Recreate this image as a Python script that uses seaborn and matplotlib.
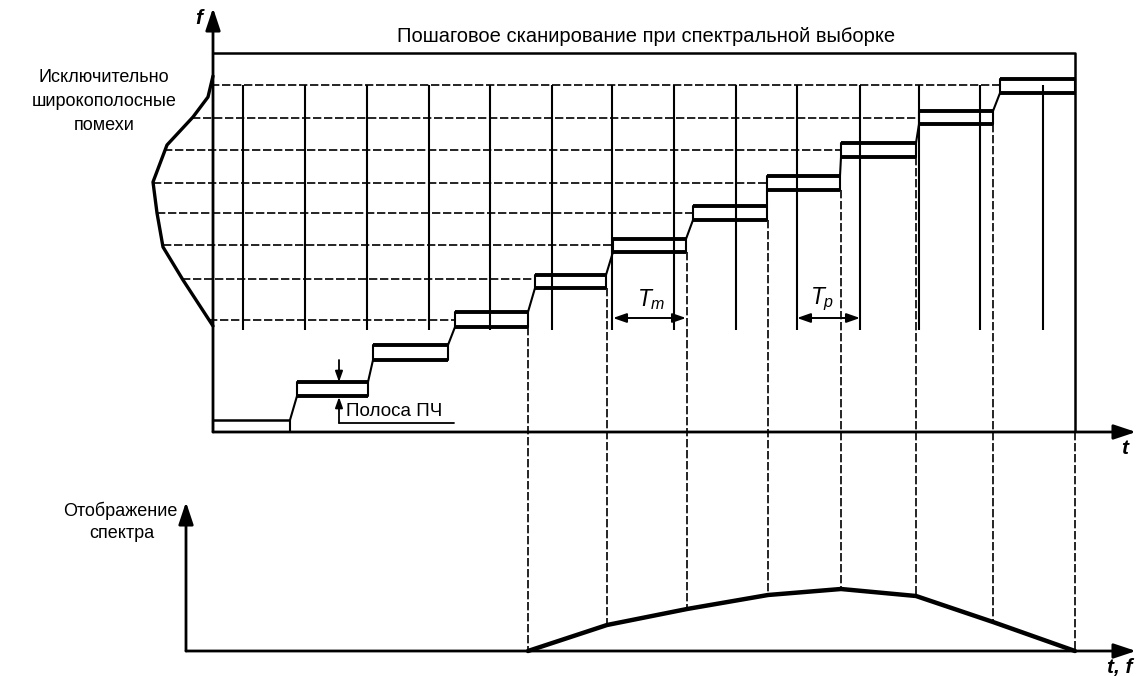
import matplotlib
matplotlib.use("Agg")
import matplotlib.pyplot as plt
import seaborn as sns
import pandas as pd

# ---------------- data (diagram units; vertical axis measured downward) ----------------
step_left   = [213, 297, 373, 455, 535, 613, 693, 767, 841, 919, 1000]
step_right  = [290, 368, 448, 528, 606, 686, 767, 840, 916, 993, 1075]
step_top    = [420, 382, 345, 312, 275, 239, 206, 176, 143, 111, 79]
step_bottom = [432, 396, 360, 327, 288, 252, 220, 190, 157, 124, 93]

grid_f     = [320, 279, 245, 213, 183, 150, 118, 85]
grid_start = [209, 182, 163, 157, 153, 164, 192, 211]
grid_vx    = [243, 305, 367, 429, 490, 552, 612, 674, 736, 797, 860, 919, 980, 1043]

noise_x = [213, 208, 193, 167, 153, 157, 163, 183, 213]
noise_f = [76, 97, 117, 145, 182, 213, 247, 280, 326]

spec_t     = [528, 607, 687, 768, 841, 916, 993, 1075]
spec_level = [0, 26, 42, 56, 62, 55, 29, 0]

title_text = "Пошаговое сканирование при спектральной выборке"
noise_label = ["Исключительно", "широкополосные", "помехи"]
spec_label = ["Отображение", "спектра"]
if_label = "Полоса ПЧ"

# ---------------- style ----------------
sns.set_theme(style="white")
plt.rcParams['font.family'] = ['Liberation Sans', 'DejaVu Sans']
plt.rcParams['text.color'] = 'black'
plt.rcParams['mathtext.fontset'] = 'custom'
plt.rcParams['mathtext.it'] = 'Liberation Sans:italic'
plt.rcParams['mathtext.rm'] = 'Liberation Sans'

K = 'black'
THICK = 2.8
THIN = 1.5
DASH = (5, 1.6)

fig = plt.figure(figsize=(11.42, 6.76), dpi=100)
ax = fig.add_axes([0, 0, 1, 1])
ax.set_xlim(0, 1142)
ax.set_ylim(676, 0)
ax.axis('off')

upper_base = 432
lower_base = 651
f_axis_x = 213
lower_axis_x = 186
top_line = 53

def arrow(x0, y0, x1, y1, lw=2.0, hl=0.9, hw=0.3, ms=15, style='-|>'):
    ax.annotate('', xy=(x1, y1), xytext=(x0, y0),
                arrowprops=dict(arrowstyle=f'{style},head_length={hl},head_width={hw}',
                                lw=lw, color=K, shrinkA=0, shrinkB=0,
                                mutation_scale=ms))

# axes
arrow(f_axis_x, upper_base, f_axis_x, 8)
arrow(f_axis_x, upper_base, 1136, upper_base)
arrow(lower_axis_x, lower_base, lower_axis_x, 502)
arrow(lower_axis_x, lower_base, 1136, lower_base)

# top frame
ax.plot([f_axis_x, step_right[-1], step_right[-1]], [top_line, top_line, upper_base],
        color=K, lw=THIN + 0.3, solid_capstyle='butt')

# dashed horizontal grid lines
for y, xs, xe in zip(grid_f, grid_start, step_left[3:]):
    ax.plot([xs, xe], [y, y], color=K, lw=1.2, dashes=DASH)

# solid vertical grid lines
ax.vlines(grid_vx, grid_f[-1], 330, color=K, lw=THIN)

# noise curve
sns.lineplot(x=noise_x, y=noise_f, ax=ax, color=K, lw=2.4, sort=False, estimator=None)

# staircase
for i in range(len(step_left)):
    l, r, t, b = step_left[i], step_right[i], step_top[i], step_bottom[i]
    lwt = THICK if i > 0 else 1.8
    ax.plot([l, r], [t, t], color=K, lw=lwt, solid_capstyle='butt')
    if i > 0:
        ax.plot([l, r], [b, b], color=K, lw=THICK, solid_capstyle='butt')
    ax.plot([l, l], [t, b], color=K, lw=THIN)
    ax.plot([r, r], [t, b], color=K, lw=THIN)
    if i + 1 < len(step_left):
        ax.plot([r, step_left[i + 1]], [t, step_bottom[i + 1]], color=K, lw=THIN)

# dashed projections down to the spectrum
spec_y = [lower_base - v for v in spec_level]
for x, yb, ys in zip(spec_t, step_bottom[3:], spec_y):
    start = upper_base if x == step_right[-1] else yb
    ax.plot([x, x], [start, ys], color=K, lw=1.2, dashes=DASH)

# spectrum display
sns.lineplot(x=spec_t, y=spec_y, ax=ax, color=K, lw=3.2, sort=False, estimator=None)

# IF band markers
arrow(339, 360, 339, 382, lw=1.3, hl=0.7, hw=0.25, ms=9)
arrow(339, 423, 339, 397, lw=1.3, hl=0.7, hw=0.25, ms=9)
ax.plot([339, 454], [423, 423], color=K, lw=1.3)
ax.text(346, 411, if_label, fontsize=13.5, ha='left', va='center')

# Tm / Tp dimension arrows
arrow(613, 318, 686, 318, lw=1.4, hl=0.8, hw=0.28, ms=10, style='<|-|>')
arrow(797, 318, 860, 318, lw=1.4, hl=0.8, hw=0.28, ms=10, style='<|-|>')
ax.text(651, 300, r'$T_m$', fontsize=16.5, ha='center', va='center')
ax.text(822, 299, r'$T_p$', fontsize=16.5, ha='center', va='center')

# labels
ax.text(646, 37, title_text, fontsize=14.5, ha='center', va='center')
for j, s in enumerate(noise_label):
    ax.text(104, 77 + 24 * j, s, fontsize=13, ha='center', va='center')
ax.text(178, 511, spec_label[0], fontsize=13, ha='right', va='center')
ax.text(122, 534, spec_label[1], fontsize=13, ha='center', va='center')
ax.text(199, 18, 'f', fontsize=15, fontweight='bold', fontstyle='italic', ha='center', va='center')
ax.text(1125, 448, 't', fontsize=15, fontweight='bold', fontstyle='italic', ha='center', va='center')
ax.text(1120, 667, 't, f', fontsize=15, fontweight='bold', fontstyle='italic', ha='center', va='center')

fig.savefig('out.png', dpi=100, facecolor='white')
